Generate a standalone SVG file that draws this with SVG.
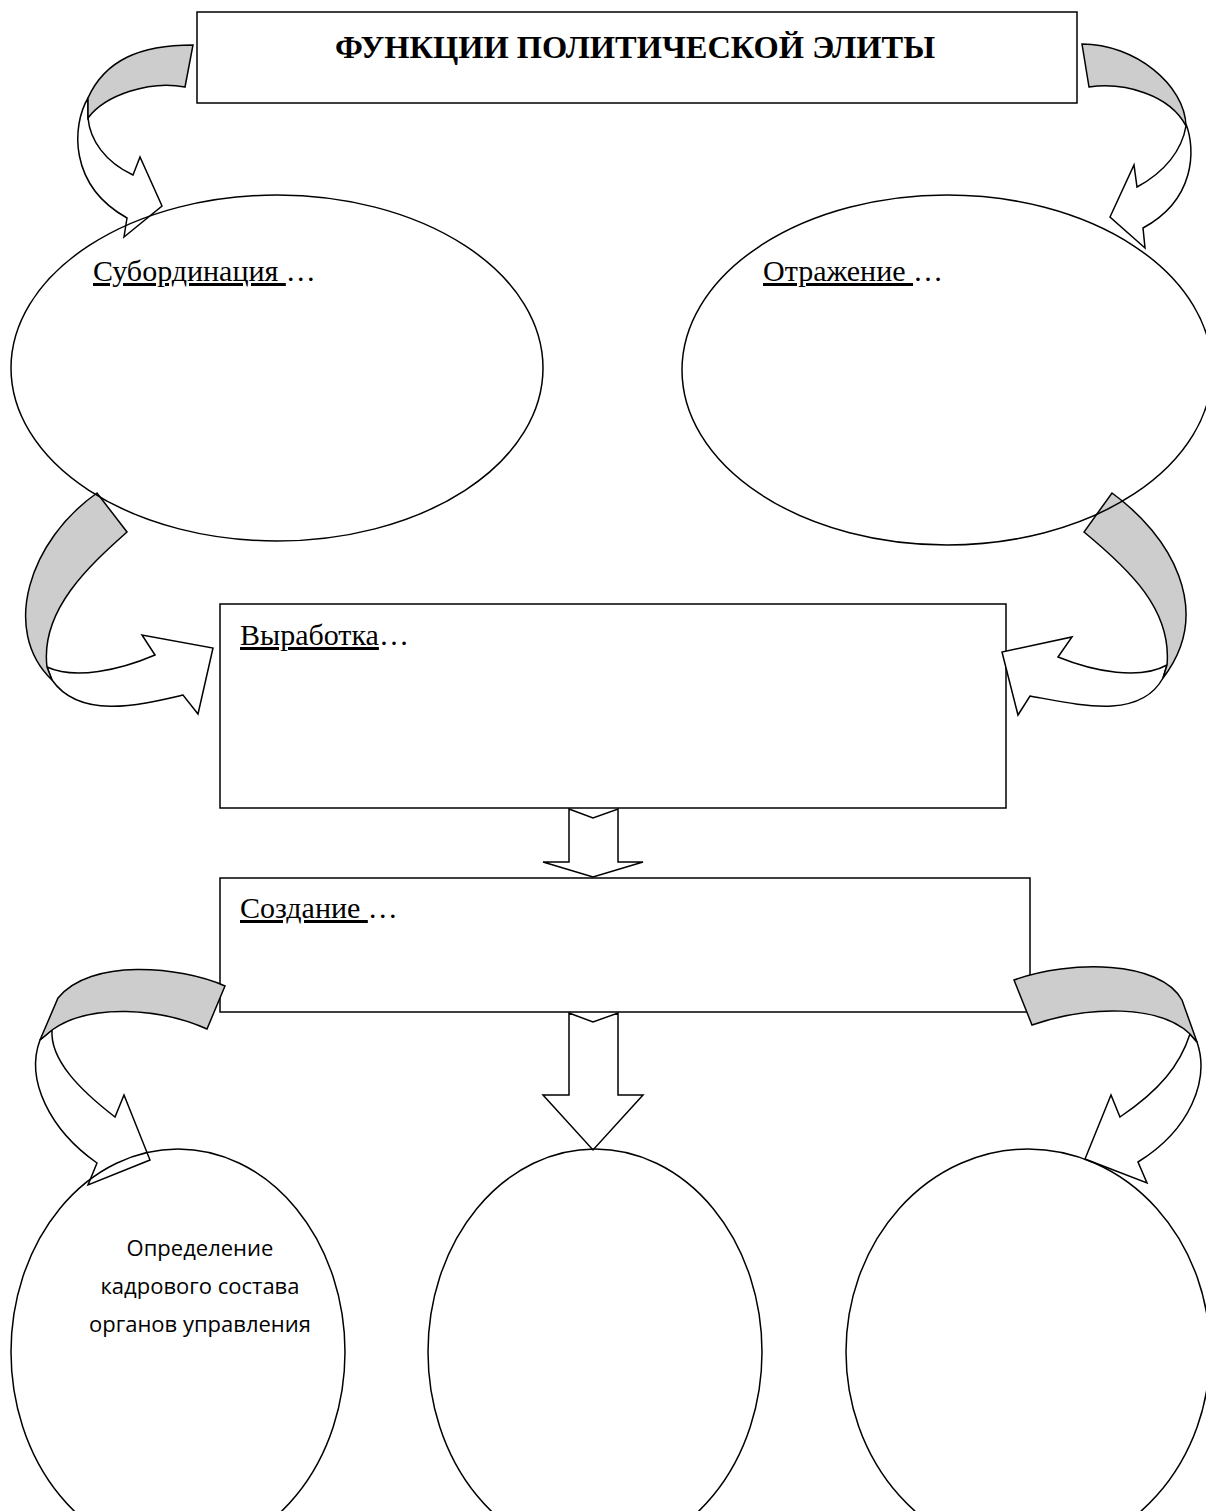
<svg xmlns="http://www.w3.org/2000/svg" width="1206" height="1511" viewBox="0 0 1206 1511">
<style>
.box{fill:#fff;stroke:#000;stroke-width:1.5}
.shape{fill:none;stroke:#000;stroke-width:1.5}
.front{fill:#fff;stroke:#000;stroke-width:1.5;stroke-linejoin:miter}
.back{fill:#cdcdcd;stroke:#000;stroke-width:1.5}
.lbl{font-family:"Liberation Serif","Times New Roman",serif;font-size:30px;fill:#000}
.ttl{font-family:"Liberation Serif","Times New Roman",serif;font-size:32px;font-weight:bold;fill:#000}
.u{text-decoration:underline}
.sans{font-family:"Open Sans","Liberation Sans",Arial,sans-serif;font-size:22px;fill:#000}
</style>
<rect width="1206" height="1511" fill="#fff"/>

<g id="title">
<rect class="box" x="197" y="12" width="880" height="91"/>
<text class="ttl" x="635" y="58" text-anchor="middle" textLength="600" lengthAdjust="spacingAndGlyphs">ФУНКЦИИ ПОЛИТИЧЕСКОЙ ЭЛИТЫ</text>
</g>

<g id="vyrabotka">
<rect class="box" x="220" y="604" width="786" height="204"/>
<text class="lbl" x="240" y="645"><tspan class="u">Выработка</tspan>…</text>
</g>

<g id="sozdanie">
<rect class="box" x="220" y="878" width="810" height="134"/>
<text class="lbl" x="240" y="918"><tspan class="u">Создание </tspan>…</text>
</g>

<g id="connectors">
<!-- top-left curved arrow -->
<path class="front" d="M88,98 C72,125 68,185 127,218 L124,237 L162,206 L140,157 L133,175 C105,162 90,140 88,118 Z"/>
<path class="back" d="M193,45 C140,45 105,60 88,98 L88,118 C105,95 150,80 185,87 Z"/>
<!-- top-right curved arrow -->
<path class="front" d="M1186,124 C1196,150 1195,200 1143,228 L1145,248 L1110,217 L1134,165 L1137,187 C1165,172 1182,150 1186,126 Z"/>
<path class="back" d="M1082,44 C1135,44 1185,85 1186,126 C1170,95 1125,82 1089,87 Z"/>
<!-- left-middle curved arrow -->
<path class="front" d="M52,680 C80,720 140,705 183,695 L198,714 L213,648 L142,635 L155,655 C120,670 75,680 47,667 Z"/>
<path class="back" d="M97,493 C30,540 0,630 52,680 L47,667 C40,610 90,565 127,532 Z"/>
<!-- right-middle curved arrow -->
<path class="front" d="M1163,678 C1140,720 1080,705 1030,696 L1018,715 L1002,652 L1072,637 L1058,657 C1095,672 1140,680 1167,665 Z"/>
<path class="back" d="M1112,493 C1170,535 1215,610 1163,678 L1167,665 C1172,610 1130,570 1084,532 Z"/>
<!-- down arrow 1 -->
<path class="front" d="M569,809 L593,818 L618,809 L618,862 L643,862 L593,877 L543,862 L569,862 Z"/>
<!-- down arrow 2 -->
<path class="front" d="M569,1013 L593,1022 L618,1013 L618,1095 L643,1095 L593,1150 L543,1095 L569,1095 Z"/>
<!-- bottom-left curved arrow -->
<path class="front" d="M40,1040 C25,1080 50,1130 97,1163 L88,1185 L150,1160 L124,1095 L115,1117 C80,1090 50,1060 52,1030 Z"/>
<path class="back" d="M225,986 C180,966 90,958 58,998 L40,1040 L52,1030 C90,1003 160,1008 207,1029 Z"/>
<!-- bottom-right curved arrow -->
<path class="front" d="M1197,1042 C1210,1080 1190,1130 1138,1162 L1147,1183 L1085,1159 L1111,1095 L1120,1117 C1160,1090 1180,1065 1190,1034 Z"/>
<path class="back" d="M1014,980 C1070,960 1160,960 1182,1000 L1197,1042 L1190,1034 C1160,1005 1090,1005 1032,1025 Z"/>
</g>

<g id="subordinatsiya">
<ellipse class="shape" cx="277" cy="368" rx="266" ry="173"/>
<text class="lbl" x="93" y="281"><tspan class="u">Субординация </tspan>…</text>
</g>

<g id="otrazhenie">
<ellipse class="shape" cx="947" cy="370" rx="265" ry="175"/>
<text class="lbl" x="763" y="281"><tspan class="u">Отражение </tspan>…</text>
</g>

<g id="circle-left">
<ellipse class="shape" cx="178" cy="1352" rx="167" ry="203"/>
<text class="sans" text-anchor="middle"><tspan x="200" y="1256">Определение</tspan><tspan x="200" y="1294">кадрового состава</tspan><tspan x="200" y="1332">органов управления</tspan></text>
</g>

<g id="circle-middle">
<ellipse class="shape" cx="595" cy="1352" rx="167" ry="203"/>
</g>

<g id="circle-right">
<ellipse class="shape" cx="1028" cy="1352" rx="182" ry="203"/>
</g>
</svg>
